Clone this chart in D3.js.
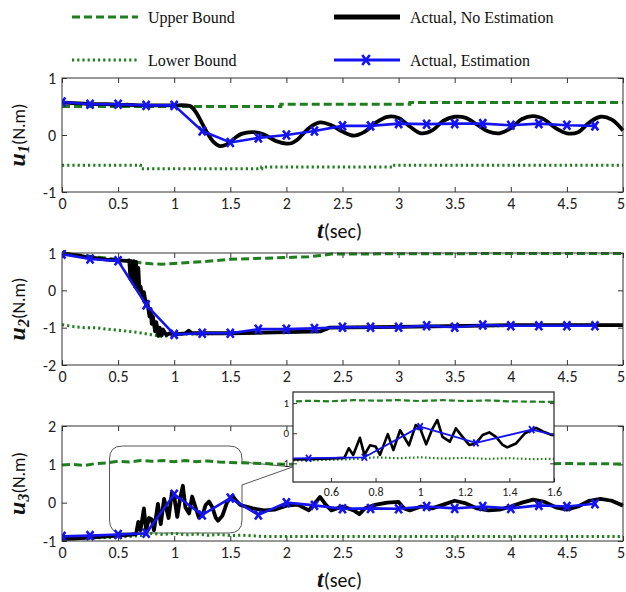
<!DOCTYPE html>
<html>
<head>
<meta charset="utf-8">
<script src="https://cdn.jsdelivr.net/npm/d3@7"></script>
<style>
html,body{margin:0;padding:0;background:#fff;}
svg{display:block;}
</style>
</head>
<body>
<svg id="chart" width="626" height="592"></svg>
<script>
// ---------- DATA ----------
const xTicks = [0,0.5,1,1.5,2,2.5,3,3.5,4,4.5,5];
const tEst = [0,0.25,0.5,0.75,1,1.25,1.5,1.75,2,2.25,2.5,2.75,3,3.25,3.5,3.75,4,4.25,4.5,4.75];

// Panel 1 (u1)
const tB1 = [0,0.1,0.2,0.3,0.4,0.5,0.6,0.7,0.8,0.9,1.0,1.1,1.15,1.2,1.25,1.3,1.35,1.4,1.45,1.5,1.55,1.6,1.7,1.8,1.9,2.0,2.05,2.1,2.2,2.3,2.4,2.5,2.6,2.7,2.8,2.9,3.0,3.1,3.2,3.3,3.4,3.5,3.6,3.7,3.8,3.9,4.0,4.1,4.2,4.3,4.4,4.5,4.6,4.7,4.8,4.9,5.0];
const uB1 = [0.57,0.56,0.55,0.54,0.54,0.53,0.53,0.52,0.52,0.52,0.52,0.52,0.5,0.38,0.2,0.02,-0.12,-0.19,-0.18,-0.12,-0.04,0.02,0.05,0.01,-0.1,-0.15,-0.14,-0.08,0.12,0.22,0.17,0.06,-0.01,0.06,0.22,0.32,0.3,0.15,0.03,0.08,0.25,0.32,0.3,0.18,0.06,0.03,0.12,0.28,0.33,0.27,0.12,0.03,0.05,0.22,0.32,0.27,0.08];
const uE1 = [0.58,0.54,0.54,0.52,0.52,0.07,-0.13,-0.05,0.0,0.07,0.16,0.16,0.2,0.19,0.2,0.2,0.17,0.2,0.17,0.16];
const tU1 = [0,1.95,1.95,3.1,3.1,5];
const uU1 = [0.5,0.5,0.54,0.54,0.57,0.57];
const tL1 = [0,0.7,0.7,1.78,1.78,2.95,2.95,5];
const uL1 = [-0.53,-0.53,-0.59,-0.59,-0.56,-0.56,-0.53,-0.53];
const yTicks1 = [-1,0,1];

// Panel 2 (u2)
const tB2 = [0,0.1,0.2,0.3,0.4,0.5,0.58,0.6,0.61,0.62,0.63,0.64,0.65,0.66,0.67,0.68,0.69,0.7,0.72,0.73,0.75,0.76,0.78,0.79,0.8,0.81,0.83,0.84,0.86,0.87,0.89,0.9,0.93,0.96,1.0,1.1,1.13,1.16,1.5,2.0,2.3,2.38,3.0,3.6,4.0,5.0];
const uB2 = [1.0,0.95,0.9,0.86,0.82,0.8,0.79,0.8,0.3,0.78,0.2,0.78,0.1,0.76,0.05,0.6,0.0,0.1,-0.2,-0.05,-0.4,-0.3,-0.7,-0.5,-0.9,-0.7,-1.1,-0.85,-1.22,-1.0,-1.2,-1.05,-1.2,-1.15,-1.18,-1.15,-1.08,-1.15,-1.15,-1.12,-1.1,-1.0,-0.98,-0.95,-0.93,-0.93];
const uE2 = [0.97,0.84,0.79,-0.39,-1.18,-1.15,-1.15,-1.04,-1.04,-1.02,-0.99,-0.99,-0.99,-0.95,-0.99,-0.93,-0.95,-0.95,-0.95,-0.95];
const tU2 = [0,0.2,0.4,0.5,0.6,0.7,0.8,0.9,1.0,1.1,1.2,1.3,1.5,1.7,2.0,2.2,2.3,2.4,3.0,5.0];
const uU2 = [1.0,0.93,0.86,0.82,0.78,0.74,0.71,0.7,0.72,0.74,0.76,0.78,0.83,0.85,0.88,0.9,0.93,0.97,0.98,0.99];
const tL2 = [0,0.1,0.2,0.3,0.4,0.5,0.6,0.7,0.8,0.9,1.0,1.5,2.3,2.4,3.6,5.0];
const uL2 = [-0.92,-0.97,-1.0,-1.0,-1.04,-1.07,-1.1,-1.14,-1.19,-1.24,-1.18,-1.15,-1.1,-1.0,-0.95,-0.93];
const yTicks2 = [-2,-1,0,1];

// Panel 3 (u3)
const tB3 = [0,0.1,0.2,0.3,0.4,0.5,0.6,0.66,0.68,0.70,0.73,0.75,0.775,0.80,0.82,0.855,0.88,0.91,0.95,0.98,1.0,1.027,1.052,1.077,1.10,1.133,1.16,1.19,1.22,1.25,1.28,1.31,1.34,1.37,1.39,1.43,1.47,1.52,1.55,1.59,1.7,1.8,1.9,2.0,2.1,2.2,2.25,2.3,2.35,2.4,2.5,2.6,2.65,2.7,2.8,2.9,3.0,3.05,3.1,3.2,3.3,3.4,3.5,3.6,3.7,3.8,3.9,4.0,4.1,4.2,4.3,4.4,4.5,4.6,4.7,4.8,4.9,5.0];
const uB3 = [-0.95,-0.94,-0.92,-0.9,-0.88,-0.86,-0.84,-0.82,-0.5,-0.72,-0.15,-0.72,-0.4,-0.44,-0.72,-0.03,-0.56,0.1,-0.4,0.27,0.16,-0.37,0.1,0.44,-0.12,-0.28,0.16,-0.12,-0.39,-0.34,-0.06,0.03,-0.12,-0.39,-0.47,-0.34,0.0,0.18,0.06,-0.06,-0.15,-0.2,-0.18,-0.08,-0.05,-0.2,-0.03,0.15,-0.05,-0.2,-0.1,-0.2,-0.3,-0.15,-0.05,0.0,0.02,-0.15,-0.2,-0.1,-0.15,-0.05,0.05,-0.02,-0.15,-0.2,-0.18,-0.1,0.0,0.08,0.02,-0.12,-0.18,-0.1,0.05,0.1,0.05,-0.08];
const uE3 = [-0.88,-0.86,-0.83,-0.8,0.22,-0.32,0.12,-0.32,0.0,-0.07,-0.16,-0.15,-0.16,-0.1,-0.15,-0.1,-0.15,-0.07,-0.1,-0.03];
const tU3 = [0,0.1,0.2,0.3,0.4,0.5,0.6,0.7,0.8,0.9,1.0,1.1,1.2,1.3,1.4,1.5,1.6,1.8,2.0,2.5,3.0,3.5,4.0,4.5,5.0];
const uU3 = [0.98,1.0,0.97,1.02,1.04,1.08,1.06,1.1,1.08,1.1,1.07,1.1,1.07,1.09,1.06,1.05,1.04,1.02,1.0,1.0,1.0,1.0,1.01,1.02,1.01];
const tL3 = [0,0.5,0.7,0.8,0.9,1.0,1.1,1.2,1.3,1.4,1.5,1.6,1.8,2.0,2.5,3.0,3.5,4.0,4.5,5.0];
const uL3 = [-0.95,-0.9,-0.86,-0.8,-0.83,-0.8,-0.84,-0.82,-0.85,-0.83,-0.86,-0.85,-0.88,-0.88,-0.88,-0.88,-0.88,-0.88,-0.88,-0.88];
const yTicks3 = [-1,0,1,2];

// Inset
const insetXTicks = [0.6,0.8,1,1.2,1.4,1.6];
const insetYTicks = [-1,0,1];

// Legend
const legendLabels = ["Upper Bound","Lower Bound","Actual, No Estimation","Actual, Estimation"];

// ---------- STYLE ----------
const GREEN = "#1f7f1f", BLUE = "#1414f0", BLACK = "#000";
const tickFont = "Carlito, Lato, 'Open Sans', sans-serif";
const serif = "'Liberation Serif', 'DejaVu Serif', serif";

const svg = d3.select("#chart");
const X0 = 62, X1 = 623;
const x = d3.scaleLinear([0,5],[X0,X1]);

const zip = (t,u) => t.map((d,i)=>[d,u[i]]);
const mk = (s) => `M${-s*0.75},${-s} L${s*0.75},${s} M${-s*0.75},${s} L${s*0.75},${-s}`;

function drawSeries(g, xs, ys, p, lw) {
  const line = (curve) => d3.line().x(d=>xs(d[0])).y(d=>ys(d[1])).curve(curve||d3.curveLinear);
  g.append("path").attr("d", line()(zip(p.tU,p.uU))).attr("fill","none")
    .attr("stroke",GREEN).attr("stroke-width",lw.g).attr("stroke-dasharray",lw.dash);
  g.append("path").attr("d", line()(zip(p.tL,p.uL))).attr("fill","none")
    .attr("stroke",GREEN).attr("stroke-width",lw.g).attr("stroke-dasharray",lw.dot);
  g.append("path").attr("d", line(p.curve)(zip(p.tB,p.uB))).attr("fill","none")
    .attr("stroke",BLACK).attr("stroke-width",lw.k).attr("stroke-linejoin","round");
  const est = zip(tEst,p.uE);
  g.append("path").attr("d", line()(est)).attr("fill","none")
    .attr("stroke",BLUE).attr("stroke-width",lw.b).attr("stroke-linejoin","round");
  g.selectAll(null).data(est).join("path")
    .attr("transform",d=>`translate(${xs(d[0])},${ys(d[1])})`)
    .attr("d",mk(lw.m)).attr("fill","none").attr("stroke",BLUE).attr("stroke-width",lw.b);
}

function styleAxis(a, fs) {
  a.select(".domain").remove();
  a.selectAll("line").attr("stroke","#333");
  a.selectAll("text").attr("font-family",tickFont).attr("font-size",fs).attr("fill","#222");
}

const panels = [
  {top:78, bot:192, dom:[-1,1], yt:yTicks1, tB:tB1,uB:uB1,uE:uE1,tU:tU1,uU:uU1,tL:tL1,uL:uL1, sub:"1", curve:d3.curveCatmullRom, xlabel:true},
  {top:253, bot:365, dom:[-2,1], yt:yTicks2, tB:tB2,uB:uB2,uE:uE2,tU:tU2,uU:uU2,tL:tL2,uL:uL2, sub:"2", xlabel:false},
  {top:426, bot:541, dom:[-1,2], yt:yTicks3, tB:tB3,uB:uB3,uE:uE3,tU:tU3,uU:uU3,tL:tL3,uL:uL3, sub:"3", xlabel:true}
];

const defs = svg.append("defs");

panels.forEach((p,i) => {
  const y = d3.scaleLinear(p.dom,[p.bot,p.top]);
  const g = svg.append("g");
  const fmt = d => String(d);
  const bx = g.append("g").attr("transform",`translate(0,${p.bot})`)
    .call(d3.axisBottom(x).tickValues(xTicks).tickSize(-5).tickPadding(6).tickFormat(fmt));
  styleAxis(bx, "16px");
  // keep the last label ("5") inside the page edge
  bx.selectAll("text").filter(d => d === 5).attr("dx","-2.5");
  styleAxis(g.append("g").attr("transform",`translate(0,${p.top})`)
    .call(d3.axisTop(x).tickValues(xTicks).tickSize(-5).tickFormat("")), "16px");
  styleAxis(g.append("g").attr("transform",`translate(${X0},0)`)
    .call(d3.axisLeft(y).tickValues(p.yt).tickSize(-5).tickPadding(6).tickFormat(fmt)), "16px");
  styleAxis(g.append("g").attr("transform",`translate(${X1},0)`)
    .call(d3.axisRight(y).tickValues(p.yt).tickSize(-5).tickFormat("")), "16px");

  if (i===2) {
    const L=109.5, T=446, R=242, B=533, r=13, tip=[292.5,467];
    const path = `M${L+r},${T} L${R-r},${T} Q${R},${T} ${R},${T+r} L${R},${462} L${tip[0]},${tip[1]} L${R},${485} L${R},${B-r} Q${R},${B} ${R-r},${B} L${L+r},${B} Q${L},${B} ${L},${B-r} L${L},${T+r} Q${L},${T} ${L+r},${T} Z`;
    g.append("path").attr("d",path).attr("fill","none").attr("stroke","#555").attr("stroke-width",1);
  }

  const cid = "clip"+i;
  defs.append("clipPath").attr("id",cid).append("rect")
    .attr("x",X0).attr("y",p.top-3).attr("width",X1-X0+2).attr("height",p.bot-p.top+6);
  const dg = g.append("g").attr("clip-path",`url(#${cid})`);
  drawSeries(dg, x, y, p, {g:3, dash:"8,4", dot:"2.2,3", k:3.8, b:2.6, m:4.5});

  g.append("rect").attr("x",X0).attr("y",p.top).attr("width",X1-X0).attr("height",p.bot-p.top)
    .attr("fill","none").attr("stroke","#333").attr("stroke-width",1);

  const cy = (p.top+p.bot)/2;
  const yl = g.append("text").attr("transform",`translate(25,${cy}) rotate(-90)`)
    .attr("text-anchor","middle").attr("fill","#111");
  yl.append("tspan").text("u").attr("font-family",serif).attr("font-weight","bold").attr("font-style","italic").attr("font-size","24px");
  yl.append("tspan").text(p.sub).attr("font-family",serif).attr("font-weight","bold").attr("font-style","italic").attr("font-size","16px").attr("dy","4");
  yl.append("tspan").text("(N.m)").attr("font-family",tickFont).attr("font-size","18px").attr("dy","-4");

  if (p.xlabel) {
    const xl = g.append("text").attr("x",(X0+X1)/2-3).attr("y",p.bot+46)
      .attr("text-anchor","middle").attr("fill","#111");
    xl.append("tspan").text("t").attr("font-family",serif).attr("font-weight","bold").attr("font-style","italic").attr("font-size","24px");
    xl.append("tspan").text("(sec)").attr("font-family",tickFont).attr("font-size","20px");
  }
});

// ---------- INSET ----------
{
  const p = panels[2];
  const IX0=293, IX1=554, IT=392, IB=482;
  const xi = d3.scaleLinear([0.43,1.6],[IX0,IX1]);
  const yi = d3.scaleLinear([-1.62,1.37],[IB,IT]);
  const g = svg.append("g");
  g.append("rect").attr("x",IX0).attr("y",IT).attr("width",IX1-IX0).attr("height",IB-IT).attr("fill","#fff");
  defs.append("clipPath").attr("id","clipI").append("rect")
    .attr("x",IX0).attr("y",IT).attr("width",IX1-IX0).attr("height",IB-IT);
  const dg = g.append("g").attr("clip-path","url(#clipI)");
  drawSeries(dg, xi, yi, p, {g:2.2, dash:"6,3", dot:"1.6,2.4", k:2.6, b:1.8, m:3.5});
  const fmt = d => String(d);
  styleAxis(g.append("g").attr("transform",`translate(0,${IB})`)
    .call(d3.axisBottom(xi).tickValues(insetXTicks).tickSize(-4).tickPadding(5).tickFormat(fmt)), "12px");
  styleAxis(g.append("g").attr("transform",`translate(${IX0},0)`)
    .call(d3.axisLeft(yi).tickValues(insetYTicks).tickSize(-4).tickPadding(4).tickFormat(fmt)), "11px");
  styleAxis(g.append("g").attr("transform",`translate(${IX1},0)`)
    .call(d3.axisRight(yi).tickValues(insetYTicks).tickSize(-4).tickFormat("")), "11px");
  g.append("rect").attr("x",IX0).attr("y",IT).attr("width",IX1-IX0).attr("height",IB-IT)
    .attr("fill","none").attr("stroke","#222").attr("stroke-width",1.2);
}

// ---------- LEGEND ----------
{
  const g = svg.append("g");
  const items = [
    {x:72, y:17, type:"dash"}, {x:72, y:60, type:"dot"},
    {x:334, y:17, type:"black"}, {x:334, y:60, type:"blue"}
  ];
  items.forEach((it,i)=>{
    const l = g.append("line").attr("x1",it.x).attr("x2",it.x+66).attr("y1",it.y).attr("y2",it.y);
    if (it.type==="dash") l.attr("stroke",GREEN).attr("stroke-width",3).attr("stroke-dasharray","8,4");
    if (it.type==="dot") l.attr("stroke",GREEN).attr("stroke-width",3).attr("stroke-dasharray","2.2,3");
    if (it.type==="black") l.attr("stroke",BLACK).attr("stroke-width",5);
    if (it.type==="blue") {
      l.attr("stroke",BLUE).attr("stroke-width",3);
      g.append("path").attr("transform",`translate(${it.x+32},${it.y})`).attr("d",mk(5))
        .attr("fill","none").attr("stroke",BLUE).attr("stroke-width",2.6);
    }
    g.append("text").attr("x",it.x+76).attr("y",it.y+6).text(legendLabels[i])
      .attr("font-family",serif).attr("font-size","16px").attr("fill","#111");
  });
}
</script>
</body>
</html>
